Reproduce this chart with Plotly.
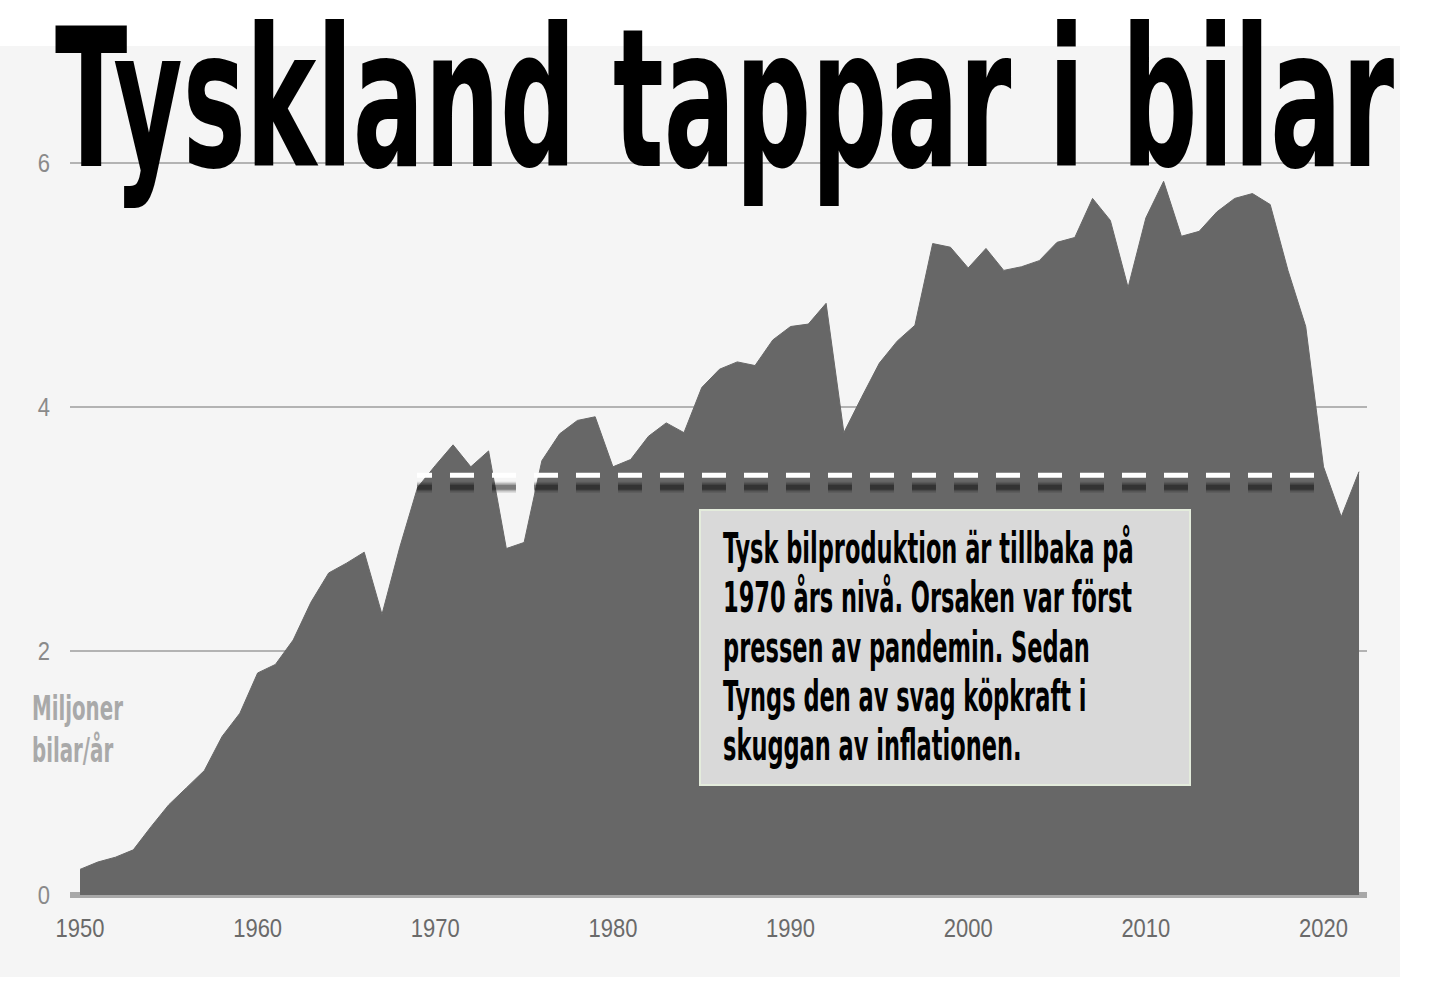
import json
import plotly.graph_objects as go

# ---- data (millions of cars per year) ----
years = list(range(1950, 2023))
production = [
    0.21, 0.27, 0.31, 0.37, 0.56, 0.74, 0.88, 1.02, 1.30, 1.49,   # 1950-1959
    1.82, 1.89, 2.09, 2.40, 2.64, 2.72, 2.81, 2.30, 2.85, 3.34,   # 1960-1969
    3.52, 3.69, 3.51, 3.64, 2.84, 2.89, 3.56, 3.78, 3.89, 3.92,   # 1970-1979
    3.51, 3.57, 3.76, 3.87, 3.79, 4.16, 4.31, 4.37, 4.34, 4.55,   # 1980-1989
    4.66, 4.68, 4.85, 3.79, 4.08, 4.36, 4.54, 4.67, 5.34, 5.31,   # 1990-1999
    5.14, 5.30, 5.12, 5.15, 5.20, 5.35, 5.39, 5.71, 5.53, 4.98,   # 2000-2009
    5.55, 5.85, 5.40, 5.44, 5.60, 5.71, 5.75, 5.66, 5.12, 4.66,   # 2010-2019
    3.51, 3.10, 3.47,                                             # 2020-2022
]
x_ticks = [1950, 1960, 1970, 1980, 1990, 2000, 2010, 2020]
x_tick_labels = ["1950", "1960", "1970", "1980", "1990", "2000", "2010", "2020"]
y_ticks = [0, 2, 4, 6]
y_tick_labels = ["0", "2", "4", "6"]

ref_level = 3.44          # "1970 level" reference
ref_start = 1968.97
ref_end = 2019.47

title_text = "Tyskland tappar i bilar"
y_label_lines = ["Miljoner", "bilar/år"]
note_lines = [
    "Tysk bilproduktion är tillbaka på",
    "1970 års nivå. Orsaken var först",
    "pressen av pandemin. Sedan",
    "Tyngs den av svag köpkraft i",
    "skuggan av inflationen.",
]

# ---- layout geometry ----
W, H = 1430, 986
L, R, T, B = 70, 63, 150, 81
PW, PH = W - L - R, H - T - B
X_RANGE = [1949.437, 2022.449]
Y_RANGE = [-0.082, 6.107]


def px_x(px):
    return (px - L) / PW


def px_y(py):
    return (H - B - py) / PH


COND = "DejaVu Sans Condensed, DejaVu Sans, sans-serif"
TICKF = "Liberation Sans, Arial, sans-serif"

fig = go.Figure()

# area
fig.add_trace(go.Scatter(
    x=years, y=production, mode="lines", fill="tozeroy",
    line=dict(color="#676767", width=1), fillcolor="#676767",
    hoverinfo="skip", showlegend=False,
))

# dashed reference line with soft shadow
shadow_off = 12 / PH * (Y_RANGE[1] - Y_RANGE[0])
dash_pattern = "15px,18px," + ",".join(["24px,18px"] * 22)
for w, a in [(11, 0.12), (8, 0.18), (5, 0.3)]:
    fig.add_trace(go.Scatter(
        x=[ref_start, ref_end], y=[ref_level - shadow_off] * 2, mode="lines",
        line=dict(color=f"rgba(0,0,0,{a})", width=w, dash=dash_pattern),
        hoverinfo="skip", showlegend=False,
    ))
fig.add_trace(go.Scatter(
    x=[ref_start, ref_end], y=[ref_level, ref_level], mode="lines",
    line=dict(color="white", width=5, dash=dash_pattern),
    hoverinfo="skip", showlegend=False,
))

shapes = [
    # light grey background panel
    dict(type="rect", xref="paper", yref="paper",
         x0=px_x(0), x1=px_x(1400), y0=px_y(977), y1=px_y(46),
         fillcolor="#f5f5f5", line=dict(width=0), layer="below"),
    # note box
    dict(type="rect", xref="paper", yref="paper",
         x0=px_x(700), x1=px_x(1190), y0=px_y(785), y1=px_y(510),
         fillcolor="#d9d9d9", line=dict(color="#e4ecdc", width=2), layer="above"),
]

annotations = []
stretch = []   # vertical stretch per annotation (emulates a condensed face)

annotations.append(dict(
    text=f"<b>{title_text}</b>", xref="paper", yref="paper",
    x=px_x(53), y=px_y(99), xanchor="left", yanchor="middle",
    showarrow=False, font=dict(family=COND, size=118, color="black")))
stretch.append(1.63)

for i, line in enumerate(y_label_lines):
    annotations.append(dict(
        text=f"<b>{line}</b>", xref="paper", yref="paper",
        x=px_x(30), y=px_y(708 + 42 * i), xanchor="left", yanchor="middle",
        showarrow=False, font=dict(family=COND, size=22, color="#a9a9a9")))
    stretch.append(1.55)

for i, line in enumerate(note_lines):
    annotations.append(dict(
        text=f"<b>{line}</b>", xref="paper", yref="paper",
        x=px_x(721), y=px_y(548.5 + 49.3 * i), xanchor="left", yanchor="middle",
        showarrow=False, font=dict(family=COND, size=25, color="black")))
    stretch.append(1.68)

fig.update_layout(
    width=W, height=H,
    margin=dict(l=L, r=R, t=T, b=B, autoexpand=False),
    paper_bgcolor="white", plot_bgcolor="rgba(0,0,0,0)",
    shapes=shapes, annotations=annotations, showlegend=False,
    xaxis=dict(range=X_RANGE, tickvals=x_ticks, ticktext=x_tick_labels,
               showgrid=False, zeroline=False, showline=False, ticks="",
               ticklabelstandoff=8,
               tickfont=dict(family=TICKF, size=22, color="#6a6a6a")),
    yaxis=dict(range=Y_RANGE, tickvals=y_ticks, ticktext=y_tick_labels,
               showgrid=True, gridcolor="#b3b3b3", gridwidth=2,
               zeroline=True, zerolinecolor="#a8a8a8", zerolinewidth=6,
               showline=False, ticks="", ticklabelstandoff=19,
               tickfont=dict(family=TICKF, size=22, color="#8a8a8a")),
)

post_script = """
document.body.style.margin = '0px';
(function () {
  var gd = document.getElementById('{plot_id}');
  var factors = %s;
  function stretchEl(el, s) {
    var bb = el.getBBox();
    var cy = bb.y + bb.height / 2;
    var t = el.getAttribute('transform') || '';
    el.setAttribute('transform', t + ' translate(0,' + (cy * (1 - s)) + ') scale(1,' + s + ')');
  }
  gd.querySelectorAll('.annotation').forEach(function (g) {
    var idx = parseInt(g.getAttribute('data-index'));
    var txt = g.querySelector('text.annotation-text');
    if (txt && factors[idx]) { stretchEl(txt, factors[idx]); }
  });
  gd.querySelectorAll('.xtick text, .ytick text').forEach(function (el) {
    stretchEl(el, 1.2);
  });
})();
""" % json.dumps(stretch)

fig.write_html("out.html", post_script=post_script,
               config={"displayModeBar": False})
